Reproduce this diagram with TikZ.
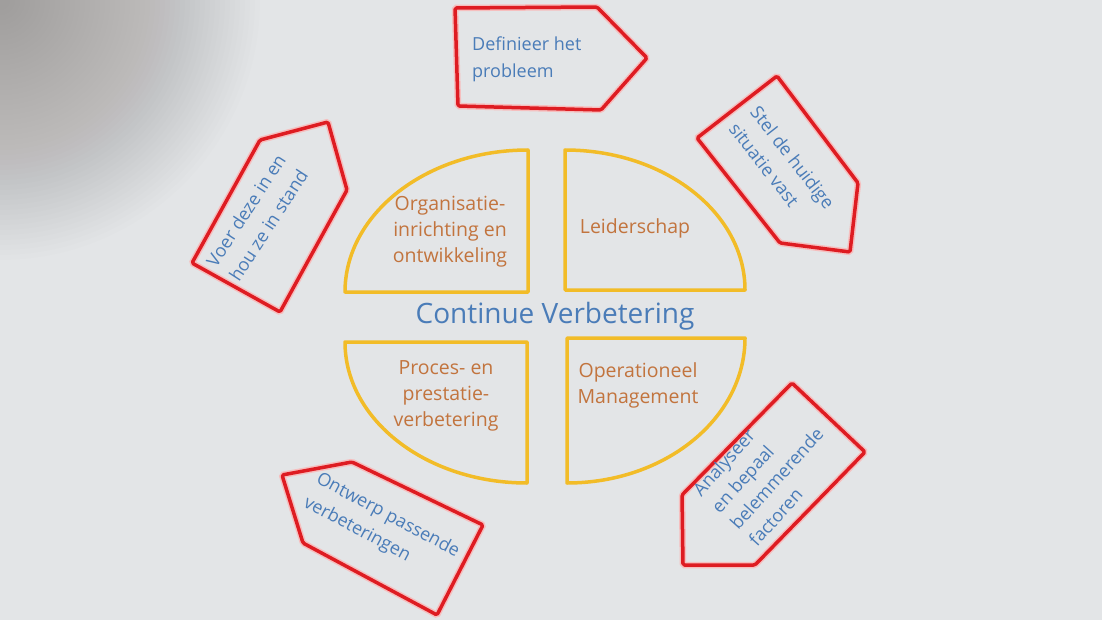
\documentclass[tikz,border=0pt]{standalone}
\usepackage{fontspec}
\setmainfont{Open Sans}
\usepackage{tikz}
\usetikzlibrary{positioning}

\definecolor{wall}{RGB}{227,229,231}
\definecolor{wallgrey}{RGB}{110,104,100}
\definecolor{arrowred}{RGB}{222,28,34}
\definecolor{halo}{RGB}{246,190,190}
\definecolor{gold}{RGB}{242,188,40}
\definecolor{rust}{RGB}{194,116,62}
\definecolor{inkblue}{RGB}{74,124,184}

\begin{document}
\begin{tikzpicture}[x=1pt, y=-1pt,
  quarter/.style={draw=gold, line width=3.5pt, line join=round},
  arrowbox/.style={draw=arrowred, line width=3.5pt, line join=round, rounded corners=1.5pt,
    preaction={draw=halo, line width=6.5pt}},
  steptext/.style={text=inkblue, font=\fontsize{18}{27}\selectfont, align=left, inner sep=0pt},
  fieldtext/.style={text=rust, font=\fontsize{19.5}{26}\selectfont, align=center, inner sep=0pt}]
  \useasboundingbox (0,0) rectangle (1102,620);
  % wall, darker in the top left corner
  \fill[wall] (0,0) rectangle (1102,620);
  \begin{scope}
    \clip (0,0) rectangle (1102,620);
    \foreach \r in {10,15,...,260} {
      \fill[wallgrey, opacity=0.013] (0,0) circle (\r);
    }
  \end{scope}

  % four fields
  \draw[quarter] (345,292) arc[start angle=180, end angle=270, x radius=183, y radius=142] -- (528,292) -- cycle;
  \draw[quarter] (565,150) arc[start angle=-90, end angle=0, x radius=180, y radius=140] -- (565,290) -- cycle;
  \draw[quarter] (527,483) arc[start angle=90, end angle=180, x radius=182, y radius=141] -- (527,342) -- cycle;
  \draw[quarter] (745,338) arc[start angle=0, end angle=90, x radius=178, y radius=145] -- (567,338) -- cycle;
  \node[fieldtext] (org) at (450,232) {Organisatie-\\inrichting en\\ontwikkeling};
  \node[fieldtext] (lead) at (635,228) {Leiderschap};
  \node[fieldtext] (proc) at (446,396) {Proces- en\\prestatie-\\verbetering};
  \node[fieldtext] (ops) at (638,385) {Operationeel\\Management};
  \node[text=inkblue, inner sep=0pt, font=\fontsize{28}{30}\selectfont] (cv) at (555,316) {Continue Verbetering};

  % the five steps, clockwise
  \draw[arrowbox] (455,8) -- (597,7) -- (647,58) -- (601,110) -- (458,106) -- cycle;
  \node[steptext, anchor=west] (define) at (472,59) {Definieer het\\probleem};
  \draw[arrowbox] (697,138) -- (777,76) -- (858,183) -- (850,252) -- (780,243) -- cycle;
  \node[steptext, anchor=west, rotate=-52] (state) at (744,117) {Stel de huidige\\situatie vast};
  \draw[arrowbox] (792,383) -- (865,452) -- (755,565) -- (683,565) -- (682,495) -- cycle;
  \node[steptext, anchor=west, rotate=48, font=\fontsize{18}{25}\selectfont] (analyse) at (724,518) {Analyseer\\en bepaal\\belemmerende\\factoren};
  \draw[arrowbox] (282,475) -- (352,462) -- (483,525) -- (437,615) -- (303,543) -- cycle;
  \node[steptext, anchor=west, rotate=-28] (design) at (311,490) {Ontwerp passende\\verbeteringen};
  \draw[arrowbox] (192,263) -- (260,140) -- (328,122) -- (347,190) -- (280,312) -- cycle;
  \node[steptext, anchor=west, rotate=57] (sustain) at (222,272) {Voer deze in en\\hou ze in stand};
\end{tikzpicture}
\end{document}
